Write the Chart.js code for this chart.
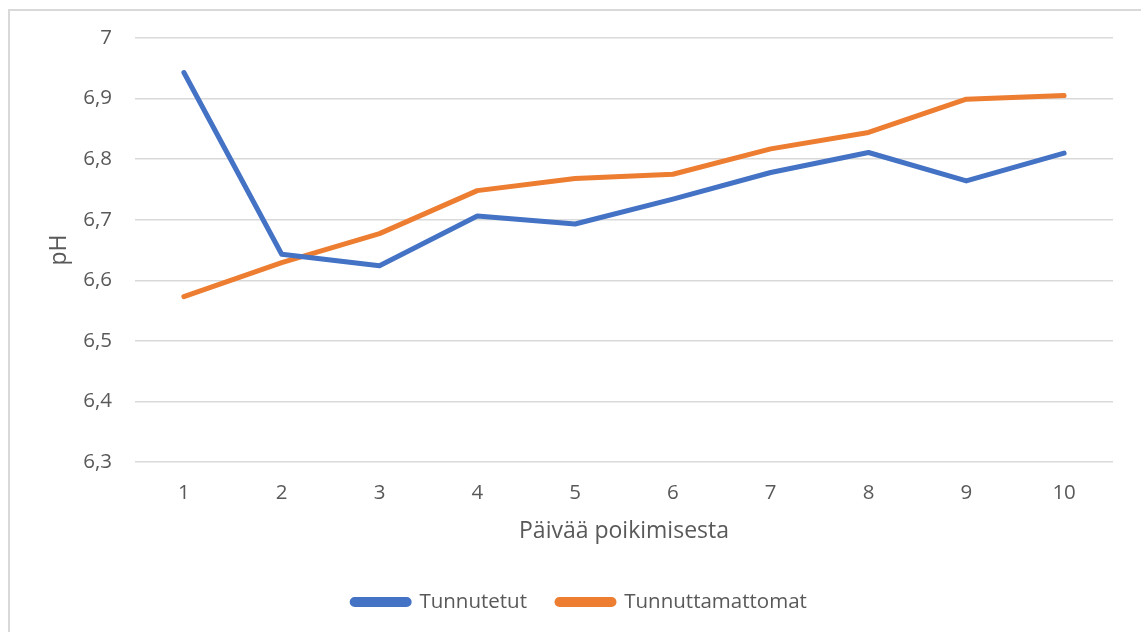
<!DOCTYPE html>
<html>
<head>
<meta charset="utf-8">
<script src="https://cdn.jsdelivr.net/npm/chart.js@4"></script>
<style>
  html, body { margin: 0; padding: 0; background: #fff; overflow: hidden; }
  #frame { position: absolute; left: 8px; top: 9px; width: 1200px; height: 700px; border: 2px solid #d9d9d9; box-sizing: border-box; }
  #wrap { position: absolute; left: 0; top: 0; width: 1141px; height: 660px; }
</style>
</head>
<body>
<div id="frame"></div>
<div id="wrap"><canvas id="myChart" width="1141" height="660"></canvas></div>
<script>
// päivät poikimisesta
const days = ['1', '2', '3', '4', '5', '6', '7', '8', '9', '10'];

// pH-arvot
const tunnutetut = [6.943, 6.643, 6.624, 6.706, 6.693, 6.734, 6.778, 6.811, 6.764, 6.810];
const tunnuttamattomat = [6.573, 6.629, 6.677, 6.748, 6.768, 6.775, 6.817, 6.844, 6.899, 6.905];

const textColor = '#595959';
const fontFamily = '"Open Sans", sans-serif';

const ctx = document.getElementById('myChart').getContext('2d');
new Chart(ctx, {
  type: 'line',
  data: {
    labels: days,
    datasets: [
      {
        label: 'Tunnutetut',
        data: tunnutetut,
        borderColor: '#4472C4',
        backgroundColor: '#4472C4',
        borderWidth: 5,
        pointRadius: 0,
        tension: 0,
        borderCapStyle: 'round',
        borderJoinStyle: 'round'
      },
      {
        label: 'Tunnuttamattomat',
        data: tunnuttamattomat,
        borderColor: '#ED7D31',
        backgroundColor: '#ED7D31',
        borderWidth: 5,
        pointRadius: 0,
        tension: 0,
        borderCapStyle: 'round',
        borderJoinStyle: 'round'
      }
    ]
  },
  options: {
    responsive: false,
    animation: false,
    layout: { padding: { left: 46, right: 28, top: 38, bottom: 37.75 } },
    scales: {
      x: {
        offset: true,
        grid: { display: false },
        border: { display: false },
        ticks: { color: textColor, padding: 11, font: { family: fontFamily, size: 20.5 } },
        title: {
          display: true,
          text: 'Päivää poikimisesta',
          color: textColor,
          font: { family: fontFamily, size: 23 },
          padding: { top: 0, bottom: 16 }
        },
        afterFit: s => { s.height = 99.75; }
      },
      y: {
        min: 6.3,
        max: 7,
        grid: { color: '#d9d9d9', lineWidth: 1.5, drawTicks: false },
        border: { display: false },
        ticks: {
          stepSize: 0.1,
          padding: 23,
          color: textColor,
          font: { family: fontFamily, size: 20.5 },
          callback: v => String(Number(v.toFixed(1))).replace('.', ',')
        },
        title: {
          display: true,
          text: 'pH',
          color: textColor,
          font: { family: fontFamily, size: 23 },
          padding: { top: 0, bottom: 0 }
        },
        afterFit: s => { s.width = 89; }
      }
    },
    plugins: {
      legend: {
        position: 'bottom',
        labels: {
          boxWidth: 57,
          boxHeight: 5,
          useBorderRadius: true,
          borderRadius: 2.5,
          padding: 30,
          color: textColor,
          font: { family: fontFamily, size: 20.5 }
        }
      },
      tooltip: { enabled: false }
    }
  }
});
</script>
</body>
</html>
